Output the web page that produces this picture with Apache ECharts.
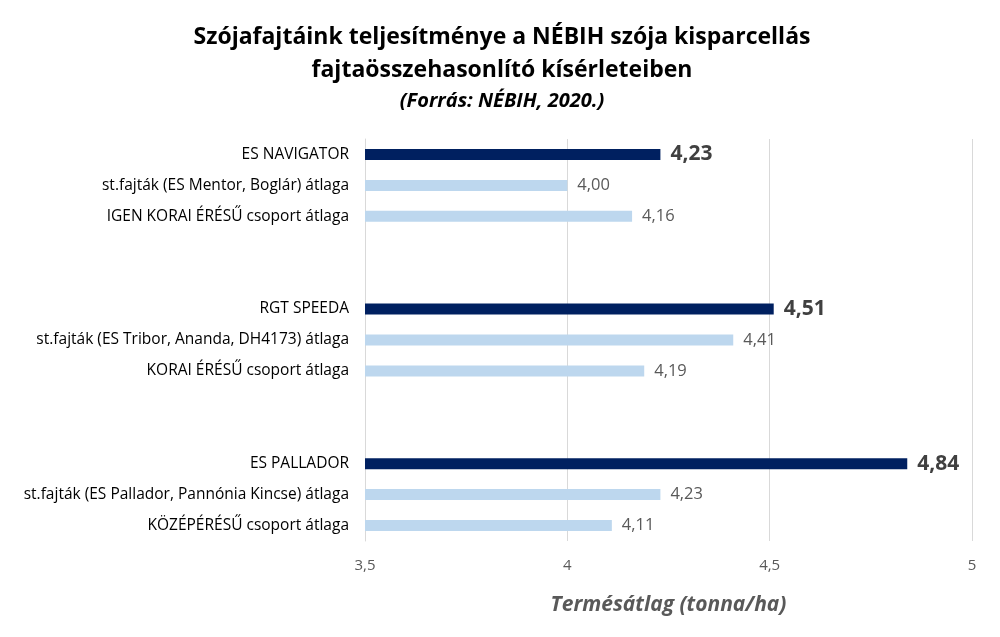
<!DOCTYPE html>
<html>
<head>
<meta charset="utf-8">
<script src="https://cdn.jsdelivr.net/npm/echarts@6/dist/echarts.min.js"></script>
<style>
html,body{margin:0;padding:0;background:#fff;}
#chart{width:1000px;height:637px;}
</style>
</head>
<body>
<div id="chart"></div>
<script>
// kategóriák (üres sorok a csoportok között)
var categories = [
	'ES NAVIGATOR',
	'st.fajták (ES Mentor, Boglár) átlaga',
	'IGEN KORAI ÉRÉSŰ csoport átlaga',
	' ', '  ',
	'RGT SPEEDA',
	'st.fajták (ES Tribor, Ananda, DH4173) átlaga',
	'KORAI ÉRÉSŰ csoport átlaga',
	'   ', '    ',
	'ES PALLADOR',
	'st.fajták (ES Pallador, Pannónia Kincse) átlaga',
	'KÖZÉPÉRÉSŰ csoport átlaga'
];
// saját fajták
var mainValues = [4.23, '-', '-', '-', '-', 4.51, '-', '-', '-', '-', 4.84, '-', '-'];
// standard fajták és csoport átlagok
var compareValues = ['-', 4.00, 4.16, '-', '-', '-', 4.41, 4.19, '-', '-', '-', 4.23, 4.11];
var xTicks = [3.5, 4, 4.5, 5];

function fmt(v, d) {
	return v.toFixed(d).replace('.', ',');
}

var chart = echarts.init(document.getElementById('chart'));
var option = {
	animation: false,
	textStyle: { fontFamily: 'Open Sans' },
	title: [{
		text: 'Szójafajtáink teljesítménye a NÉBIH szója kisparcellás\nfajtaösszehasonlító kísérleteiben',
		left: 497, top: 16, textAlign: 'center',
		textStyle: { fontSize: 23, fontWeight: 'bold', color: '#000', lineHeight: 33, fontFamily: 'Open Sans' }
	}, {
		text: '(Forrás: NÉBIH, 2020.)',
		left: 497, top: 86, textAlign: 'center',
		textStyle: { fontSize: 20, fontWeight: 'bold', fontStyle: 'italic', color: '#000', fontFamily: 'Open Sans' }
	}],
	grid: { left: 365, right: 28, top: 139, bottom: 96, containLabel: false },
	xAxis: {
		type: 'value',
		min: xTicks[0], max: xTicks[xTicks.length - 1], interval: 0.5,
		name: 'Termésátlag (tonna/ha)',
		nameLocation: 'middle', nameGap: 54,
		nameTextStyle: { fontSize: 21, fontStyle: 'italic', fontWeight: 'bold', color: '#595959' },
		axisLine: { show: false },
		axisTick: { show: false },
		axisLabel: {
			margin: 17, fontSize: 15, color: '#595959',
			formatter: function (v) { return String(v).replace('.', ','); }
		},
		splitLine: { show: true, lineStyle: { color: '#D9D9D9', width: 1 } }
	},
	yAxis: {
		type: 'category',
		data: categories,
		inverse: true,
		axisLine: { show: true, lineStyle: { color: '#D9D9D9' } },
		axisTick: { show: false },
		axisLabel: { margin: 16, fontSize: 15.5, color: '#000' }
	},
	series: [{
		type: 'bar',
		data: mainValues,
		barWidth: 11,
		barGap: '-100%',
		itemStyle: { color: '#002060' },
		label: {
			show: true, position: 'right', distance: 10,
			fontSize: 21, fontWeight: 'bold', color: '#404040',
			formatter: function (p) { return fmt(p.value, 2); }
		}
	}, {
		type: 'bar',
		data: compareValues,
		barWidth: 11,
		itemStyle: { color: '#BDD7EE' },
		label: {
			show: true, position: 'right', distance: 10,
			fontSize: 16.5, color: '#595959',
			formatter: function (p) { return fmt(p.value, 2); }
		}
	}]
};
chart.setOption(option);
</script>
</body>
</html>
